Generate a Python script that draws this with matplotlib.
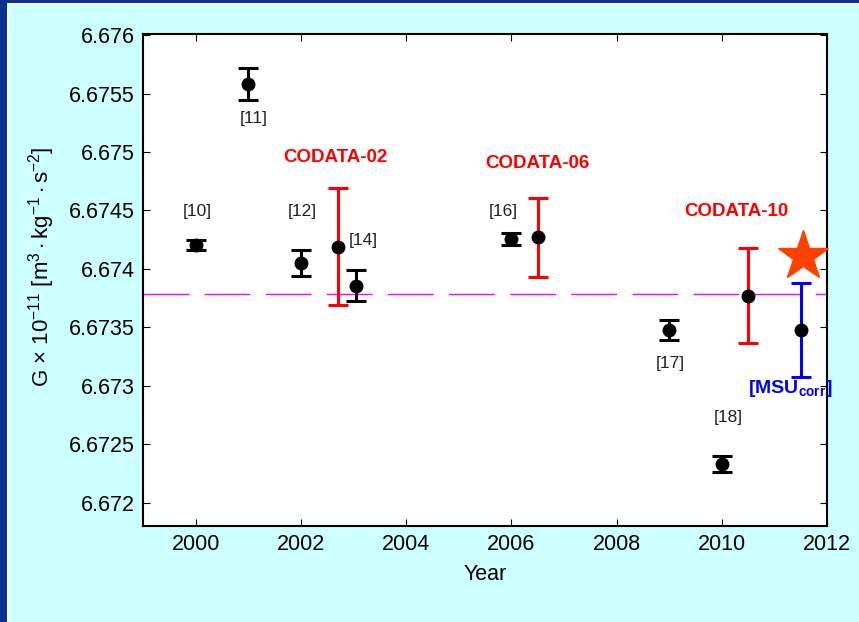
import matplotlib
matplotlib.use("Agg")
import matplotlib.pyplot as plt
from matplotlib.patches import Rectangle

plt.rcParams['font.family'] = ['Liberation Sans', 'DejaVu Sans']
plt.rcParams['mathtext.fontset'] = 'custom'
plt.rcParams['mathtext.rm'] = 'Liberation Sans'
plt.rcParams['mathtext.it'] = 'Liberation Sans'
plt.rcParams['mathtext.bf'] = 'Liberation Sans:bold'

# Measurements (black)
meas_labels = ['[10]', '[11]', '[12]', '[14]', '[16]', '[17]', '[18]']
meas_x = [2000.0, 2001.0, 2002.0, 2003.05, 2006.0, 2009.0, 2010.0]
meas_y = [6.674205, 6.675580, 6.674053, 6.673856, 6.674253, 6.673478, 6.672332]
meas_err = [0.00004, 0.000135, 0.000111, 0.000134, 0.00005, 0.000088, 0.00007]
meas_lab_x = [2000.03, 2001.10, 2002.03, 2003.19, 2005.84, 2009.02, 2010.12]
meas_lab_y = [6.674495, 6.675290, 6.674495, 6.674247, 6.674495, 6.673187, 6.672725]

# CODATA values (red)
codata_labels = ['CODATA-02', 'CODATA-06', 'CODATA-10']
codata_x = [2002.7, 2006.5, 2010.5]
codata_y = [6.674190, 6.674270, 6.673771]
codata_err = [0.000503, 0.000336, 0.000404]
codata_lab_x = [2002.66, 2006.50, 2010.28]
codata_lab_y = [6.674957, 6.674906, 6.674495]

# MSU corrected (blue)
msu_x = [2011.5]
msu_y = [6.673478]
msu_err = [0.000402]
star_x = [2011.55]
star_y = [6.674110]

ref_line = 6.673783

fig = plt.figure(figsize=(8.59, 6.22), dpi=100)
fig.patch.set_facecolor('#ccffff')
# dark blue frame on left and top
fig.patches.append(Rectangle((0, 0), 7/859, 1, transform=fig.transFigure,
                             facecolor='#0b318f', edgecolor='none', zorder=0))
fig.patches.append(Rectangle((0, 1 - 3/622), 1, 3/622, transform=fig.transFigure,
                             facecolor='#0b318f', edgecolor='none', zorder=0))
fig.patches.append(Rectangle((7/859, 0), 1.5/859, 1 - 3/622, transform=fig.transFigure,
                             facecolor='white', edgecolor='none', zorder=0))
fig.patches.append(Rectangle((7/859, 1 - 4.5/622), 1, 1.5/622, transform=fig.transFigure,
                             facecolor='white', edgecolor='none', zorder=0))

ax = fig.add_axes([143/859, 1 - 526/622, (827 - 143)/859, (526 - 34)/622])
ax.set_facecolor('white')

ax.axhline(ref_line, color='#ff00ff', lw=1.0, dashes=(33, 11), zorder=1)

ax.errorbar(meas_x, meas_y, yerr=meas_err, fmt='o', color='black', ms=9,
            elinewidth=2.2, capsize=7, capthick=2.2, zorder=3)
ax.errorbar(codata_x, codata_y, yerr=codata_err, fmt='none', ecolor='red',
            elinewidth=2.2, capsize=7, capthick=2.2, zorder=2)
ax.plot(codata_x, codata_y, 'o', color='black', ms=9, zorder=3)
ax.errorbar(msu_x, msu_y, yerr=msu_err, fmt='none', ecolor='blue',
            elinewidth=2.2, capsize=7, capthick=2.2, zorder=2)
ax.plot(msu_x, msu_y, 'o', color='black', ms=9, zorder=3)
ax.plot(star_x, star_y, marker='*', color='#ff4000', ms=38, ls='none', zorder=4,
        clip_on=False)

for t, x, y in zip(meas_labels, meas_lab_x, meas_lab_y):
    ax.text(x, y, t, ha='center', va='center', fontsize=12.5, color='#222222')
for t, x, y in zip(codata_labels, codata_lab_x, codata_lab_y):
    ax.text(x, y, t, ha='center', va='center', fontsize=13.5, color='red',
            fontweight='bold')
ax.text(2011.3, 6.672975, r'[MSU$_{\mathbf{corr}}$]', ha='center', va='center',
        fontsize=14, color='blue', fontweight='bold', clip_on=False)

ax.set_xlim(1999, 2012)
ax.set_ylim(6.6718, 6.67601)
ax.set_xticks([2000, 2002, 2004, 2006, 2008, 2010, 2012])
yt = [6.672, 6.6725, 6.673, 6.6735, 6.674, 6.6745, 6.675, 6.6755, 6.676]
ax.set_yticks(yt)
ax.set_yticklabels(['6.672', '6.6725', '6.673', '6.6735', '6.674', '6.6745',
                    '6.675', '6.6755', '6.676'])
ax.tick_params(direction='in', top=True, right=True, labelsize=15.5, length=5,
               width=0.8, pad=6)
for s in ax.spines.values():
    s.set_linewidth(1.5)

ax.set_xlabel('Year', fontsize=15.5, labelpad=6)
ax.set_ylabel(r'G $\times$ 10$^{-11}$ [m$^3\cdot$kg$^{-1}\cdot$s$^{-2}$]', fontsize=16)
ax.yaxis.set_label_coords(-0.125, 0.527)

fig.savefig('out.png', dpi=100, facecolor=fig.get_facecolor())
